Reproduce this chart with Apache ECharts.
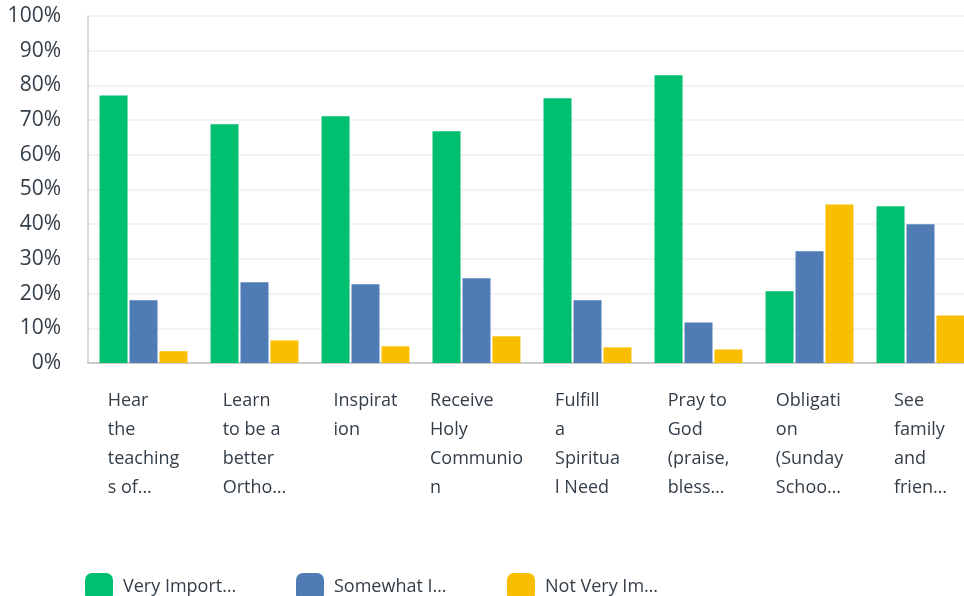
<!DOCTYPE html>
<html>
<head>
<meta charset="utf-8">
<script src="https://cdn.jsdelivr.net/npm/echarts@6/dist/echarts.min.js"></script>
<style>
	html, body { margin: 0; padding: 0; background: #ffffff; }
	#chart { width: 964px; height: 596px; }
</style>
</head>
<body>
<div id="chart"></div>
<script>
var categories = [
	"Hear\nthe\nteaching\ns of…",
	"Learn\nto be a\nbetter\nOrtho…",
	"Inspirat\nion",
	"Receive\nHoly\nCommunio\nn",
	"Fulfill\na\nSpiritua\nl Need",
	"Pray to\nGod\n(praise,\nbless…",
	"Obligati\non\n(Sunday\nSchoo…",
	"See\nfamily\nand\nfrien…",
];
var seriesNames = ["Very Important", "Somewhat Important", "Not Very Important"];
var legendLabels = ["Very Import…", "Somewhat I…", "Not Very Im…"];
var veryImportant = [77.1, 68.8, 71.1, 66.8, 76.3, 82.9, 20.7, 45.2];
var somewhatImportant = [18.1, 23.3, 22.7, 24.4, 18.1, 11.7, 32.2, 40.0];
var notVeryImportant = [3.4, 6.5, 4.8, 7.7, 4.5, 3.9, 45.7, 13.7];
var yTicks = [0, 10, 20, 30, 40, 50, 60, 70, 80, 90, 100];

var myColor = ["#00bf6f", "#507cb6", "#f9be00"];
var textColor = "#333e48";
var font = "'Open Sans', sans-serif";

var chartDom = document.getElementById("chart");
var myChart = echarts.init(chartDom, null, { renderer: "canvas" });
var option;

var makeBar = function (i, data) {
	return {
		name: seriesNames[i],
		type: "bar",
		data: data,
		barWidth: 28,
		barGap: "7%",
		itemStyle: { color: myColor[i] },
		emphasis: { disabled: true },
	};
};

// one legend per series so the items sit at even steps like the original
var legends = seriesNames.map(function (name, i) {
	return {
		data: [name],
		left: 80 + 211 * i,
		top: 568,
		icon: "roundRect",
		itemWidth: 28,
		itemHeight: 28,
		formatter: function () {
			return legendLabels[i];
		},
		textStyle: {
			color: textColor,
			fontFamily: font,
			fontSize: 18,
			padding: [0, 0, 0, 5],
		},
	};
});

option = {
	animation: false,
	grid: {
		left: 88,
		top: 16,
		width: 888,
		bottom: 233,
		containLabel: false,
		outerBoundsMode: "none",
	},
	legend: legends,
	xAxis: {
		type: "category",
		data: categories,
		axisTick: { show: false },
		axisLine: { lineStyle: { color: "#cccccc", width: 2 } },
		axisLabel: {
			interval: 0,
			margin: 23,
			color: textColor,
			formatter: function (value) {
				return value
					.split("\n")
					.map(function (l) {
						return "{a|" + l + "}";
					})
					.join("\n");
			},
			rich: {
				a: {
					align: "left",
					fontFamily: font,
					fontSize: 18,
					lineHeight: 29,
					color: textColor,
				},
			},
		},
	},
	yAxis: {
		type: "value",
		min: yTicks[0],
		max: yTicks[yTicks.length - 1],
		interval: 10,
		axisLine: { show: true, lineStyle: { color: "#cccccc", width: 1.5 } },
		axisTick: { show: false },
		splitLine: { lineStyle: { color: "#efefef", width: 1.5 } },
		axisLabel: {
			margin: 27,
			color: textColor,
			fontFamily: font,
			fontSize: 21,
			formatter: "{value}%",
		},
	},
	series: [
		makeBar(0, veryImportant),
		makeBar(1, somewhatImportant),
		makeBar(2, notVeryImportant),
	],
};

option && myChart.setOption(option);
</script>
</body>
</html>
